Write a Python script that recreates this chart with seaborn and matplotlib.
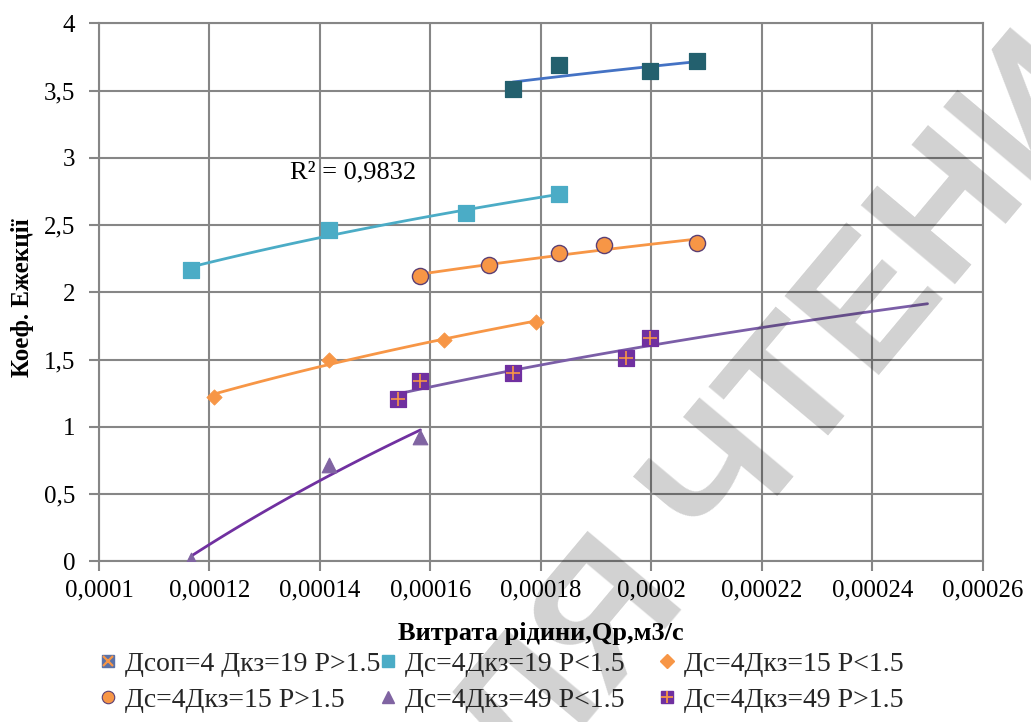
import numpy as np
import pandas as pd
import seaborn as sns
import matplotlib.pyplot as plt
from matplotlib.lines import Line2D
from matplotlib.legend_handler import HandlerTuple
from matplotlib.ticker import FixedLocator, FuncFormatter

# витрата рідини Qp, м3/с  /  коефіцієнт ежекції
q_teal = [0.0001749, 0.0001832, 0.0001998, 0.0002082]
k_teal = [3.51, 3.69, 3.645, 3.72]

q_cyan = [0.0001167, 0.0001416, 0.0001665, 0.0001832]
k_cyan = [2.17, 2.465, 2.59, 2.73]

q_dia = [0.0001208, 0.0001416, 0.0001624, 0.0001791]
k_dia = [1.225, 1.50, 1.645, 1.78]

q_circ = [0.0001582, 0.0001707, 0.0001832, 0.0001914, 0.0002082]
k_circ = [2.12, 2.205, 2.295, 2.35, 2.365]

q_tri = [0.0001167, 0.0001416, 0.0001582]
k_tri = [0.01, 0.72, 0.925]

q_plus = [0.0001541, 0.0001582, 0.0001749, 0.0001955, 0.0001998]
k_plus = [1.205, 1.345, 1.40, 1.515, 1.665]
q_plus_forecast = 0.00025

labels = ['Дсоп=4 Дкз=19 P>1.5', 'Дс=4Дкз=19 P<1.5', 'Дс=4Дкз=15 P<1.5',
          'Дс=4Дкз=15 P>1.5', 'Дс=4Дкз=49 P<1.5', 'Дс=4Дкз=49 P>1.5']
x_ticks = [0.0001, 0.00012, 0.00014, 0.00016, 0.00018, 0.0002, 0.00022, 0.00024, 0.00026]
y_ticks = [0, 0.5, 1, 1.5, 2, 2.5, 3, 3.5, 4]


def log_trend(q, k, q_end=None):
    # логарифмічна лінія тренду, як в Excel
    a, b = np.polyfit(np.log(q), k, 1)
    qq = np.linspace(min(q), q_end if q_end else max(q), 80)
    return pd.DataFrame({'q': qq, 'k': a * np.log(qq) + b})


sns.set_theme(style="whitegrid")
plt.rcParams['font.family'] = ['Liberation Serif', 'DejaVu Serif']

fig = plt.figure(figsize=(10.31, 7.22), dpi=100)
ax = fig.add_axes([0.096, 0.2223, 0.8572, 0.7452])

grid_c = '#868686'
orange = '#F79646'

# лінії тренду
sns.lineplot(data=log_trend(q_teal, k_teal), x='q', y='k', color='#4472C4', lw=2, ax=ax, zorder=2)
sns.lineplot(data=log_trend(q_cyan, k_cyan), x='q', y='k', color='#4BACC6', lw=2, ax=ax, zorder=2)
sns.lineplot(data=log_trend(q_dia, k_dia), x='q', y='k', color=orange, lw=2, ax=ax, zorder=2)
sns.lineplot(data=log_trend(q_circ, k_circ), x='q', y='k', color=orange, lw=2, ax=ax, zorder=2)
sns.lineplot(data=log_trend(q_tri, k_tri), x='q', y='k', color='#7030A0', lw=2, ax=ax, zorder=2)
sns.lineplot(data=log_trend(q_plus, k_plus, q_plus_forecast), x='q', y='k', color='#7B5EA7', lw=2, ax=ax, zorder=2)

# точки
sns.scatterplot(x=q_teal, y=k_teal, marker='s', s=120, color='#23606E', edgecolor='#23606E', ax=ax, zorder=3)
sns.scatterplot(x=q_cyan, y=k_cyan, marker='s', s=120, color='#4BACC6', edgecolor='#4BACC6', ax=ax, zorder=3)
sns.scatterplot(x=q_dia, y=k_dia, marker='D', s=60, color=orange, edgecolor=orange, ax=ax, zorder=3)
sns.scatterplot(x=q_circ, y=k_circ, marker='o', s=135, color=orange, edgecolor='#5B3F73', linewidth=1, ax=ax, zorder=3)
sns.scatterplot(x=q_tri, y=k_tri, marker='^', s=110, color='#8064A2', edgecolor='#8064A2', ax=ax, zorder=3)
sns.scatterplot(x=q_plus, y=k_plus, marker='s', s=120, color='#7030A0', edgecolor='#7030A0', ax=ax, zorder=3)
ax.scatter(q_plus, k_plus, marker='+', s=110, color=orange, linewidths=1.2, zorder=4)

ax.text(0.0001345, 2.89, 'R² = 0,9832', va='center', ha='left', fontsize=19, color='black')

ax.set_xlim(0.0001, 0.00026)
ax.set_ylim(0, 4)
ax.xaxis.set_major_locator(FixedLocator(x_ticks))
ax.yaxis.set_major_locator(FixedLocator(y_ticks))
comma = FuncFormatter(lambda v, p: ('%g' % v).replace('.', ','))
ax.xaxis.set_major_formatter(comma)
ax.yaxis.set_major_formatter(comma)
ax.grid(True, color=grid_c, lw=1.5)
for sp in ax.spines.values():
    sp.set_visible(True)
    sp.set_color(grid_c)
    sp.set_linewidth(1.5)
ax.tick_params(axis='both', which='major', bottom=True, left=True, length=7, width=1.5,
               color=grid_c, labelsize=18, labelcolor='black', direction='out')
ax.tick_params(axis='x', pad=6)
ax.tick_params(axis='y', pad=10)

ax.set_xlabel('Витрата рідини,Qp,м3/с', fontsize=19, fontweight='bold', color='black')
ax.xaxis.label.set_va('center')
ax.xaxis.set_label_coords(0.5, -0.133)
ax.set_ylabel('Коеф. Ежекції', fontsize=18, fontweight='bold', color='black')
ax.yaxis.label.set_va('center')
ax.yaxis.set_label_coords(-0.087, 0.49)

h1 = (Line2D([], [], ls='', marker='s', ms=9, mfc='#5B72A8', mec='#5B72A8'),
      Line2D([], [], ls='', marker='x', ms=7, mec=orange, mew=1.6))
h2 = Line2D([], [], ls='', marker='s', ms=9, mfc='#4BACC6', mec='#4BACC6')
h3 = Line2D([], [], ls='', marker='D', ms=7, mfc=orange, mec=orange)
h4 = Line2D([], [], ls='', marker='o', ms=9, mfc=orange, mec='#5B3F73', mew=0.8)
h5 = Line2D([], [], ls='', marker='^', ms=9, mfc='#8064A2', mec='#8064A2')
h6 = (Line2D([], [], ls='', marker='s', ms=9, mfc='#7030A0', mec='#7030A0'),
      Line2D([], [], ls='', marker='+', ms=9, mec=orange, mew=1.3))

# легенда: три колонки по два рядки, кожна колонка окремо
columns = [([h1, h4], [labels[0], labels[3]], 0.0941),
           ([h2, h5], [labels[1], labels[4]], 0.3657),
           ([h3, h6], [labels[2], labels[5]], 0.6363)]
for col_handles, col_labels, x0 in columns:
    fig.legend(col_handles, col_labels, ncol=1, loc='upper left', bbox_to_anchor=(x0, 0.098),
               frameon=False, prop={'family': ['Liberation Serif', 'DejaVu Serif'], 'size': 20},
               handlelength=0.8, handletextpad=0.2, labelspacing=0.38,
               borderpad=0, borderaxespad=0,
               handler_map={tuple: HandlerTuple(ndivide=1)})

# водяний знак
fig.text(0.762, 0.425, 'ДЛЯ ЧТЕНИЯ', rotation=50, rotation_mode='anchor', fontsize=128,
         fontweight='bold', color='black', alpha=0.18, ha='center', va='center',
         family='Liberation Sans')

fig.savefig('out.png', dpi=100)
